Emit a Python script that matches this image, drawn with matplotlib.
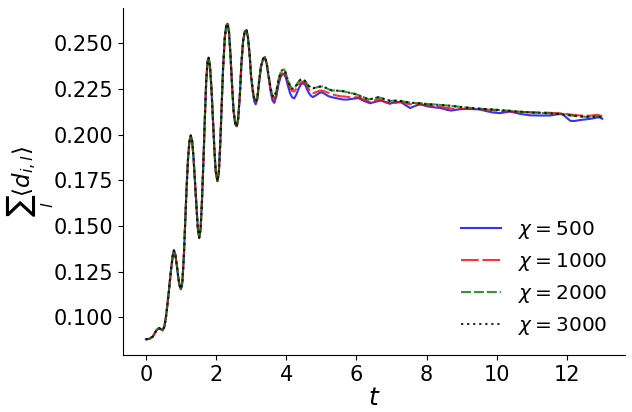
import matplotlib
matplotlib.use("Agg")
import matplotlib.pyplot as plt

# Common early part (all bond dimensions coincide)
t_common = [0.00, 0.10, 0.20, 0.30, 0.37, 0.43, 0.48, 0.53, 0.58, 0.63, 0.68, 0.73, 0.77, 0.80,
            0.84, 0.88, 0.92, 0.96, 1.00, 1.04, 1.08, 1.12, 1.16, 1.20, 1.24, 1.28, 1.32, 1.36,
            1.40, 1.44, 1.48, 1.52, 1.56, 1.60, 1.64, 1.68, 1.72, 1.76, 1.79, 1.83, 1.87, 1.91,
            1.95, 1.99, 2.04, 2.08, 2.12, 2.16, 2.20, 2.25, 2.29, 2.33, 2.37, 2.41, 2.45, 2.50,
            2.55, 2.59, 2.63, 2.68, 2.72, 2.77, 2.82, 2.87, 2.91, 2.96]
v_common = [0.0880, 0.0882, 0.0895, 0.0928, 0.0941, 0.0935, 0.0929, 0.0950, 0.1010, 0.1095,
            0.1190, 0.1280, 0.1340, 0.1366, 0.1345, 0.1290, 0.1225, 0.1175, 0.1154, 0.1190,
            0.1320, 0.1510, 0.1700, 0.1860, 0.1960, 0.1995, 0.1965, 0.1870, 0.1740, 0.1600,
            0.1490, 0.1435, 0.1480, 0.1640, 0.1850, 0.2080, 0.2290, 0.2405, 0.2420, 0.2370,
            0.2250, 0.2090, 0.1930, 0.1800, 0.1745, 0.1790, 0.1950, 0.2150, 0.2360, 0.2530,
            0.2595, 0.2606, 0.2560, 0.2440, 0.2290, 0.2130, 0.2055, 0.2045, 0.2085, 0.2220,
            0.2380, 0.2510, 0.2565, 0.2570, 0.2530, 0.2430]

# chi = 500
t_500 = [3.00, 3.05, 3.09, 3.13, 3.18, 3.23, 3.28, 3.34, 3.39, 3.44, 3.50, 3.56, 3.61, 3.66,
         3.72, 3.78, 3.84, 3.89, 3.94, 3.99, 4.05, 4.11, 4.17, 4.23, 4.29, 4.35, 4.42, 4.48,
         4.55, 4.62, 4.70, 4.76, 4.85, 4.95, 5.02, 5.10, 5.20, 5.30, 5.45, 5.60, 5.73, 5.90,
         6.06, 6.20, 6.39, 6.55, 6.70, 6.85, 6.96, 7.10, 7.25, 7.40, 7.53, 7.68, 7.82, 8.00,
         8.20, 8.40, 8.58, 8.70, 8.85, 9.05, 9.30, 9.52, 9.70, 9.90, 10.09, 10.38, 10.66,
         10.95, 11.23, 11.52, 11.70, 11.85, 11.95, 12.09, 12.20, 12.40, 12.66, 12.85, 12.94, 13.00]
v_500 = [0.2310, 0.2230, 0.2180, 0.2165, 0.2195, 0.2290, 0.2370, 0.2412, 0.2420, 0.2390,
         0.2310, 0.2230, 0.2185, 0.2173, 0.2210, 0.2275, 0.2315, 0.2330, 0.2330, 0.2310,
         0.2265, 0.2225, 0.2203, 0.2198, 0.2220, 0.2250, 0.2275, 0.2282, 0.2268, 0.2235,
         0.2212, 0.2205, 0.2215, 0.2228, 0.2231, 0.2222, 0.2210, 0.2204, 0.2198, 0.2192,
         0.2191, 0.2196, 0.2199, 0.2185, 0.2171, 0.2180, 0.2186, 0.2177, 0.2170, 0.2176,
         0.2180, 0.2160, 0.2145, 0.2157, 0.2166, 0.2155, 0.2149, 0.2145, 0.2135, 0.2131,
         0.2136, 0.2140, 0.2140, 0.2137, 0.2128, 0.2120, 0.2117, 0.2126, 0.2113, 0.2105,
         0.2104, 0.2104, 0.2110, 0.2113, 0.2098, 0.2075, 0.2074, 0.2080, 0.2086, 0.2093,
         0.2094, 0.2086]

# chi = 1000
t_1000 = [3.00, 3.05, 3.09, 3.13, 3.18, 3.23, 3.28, 3.34, 3.39, 3.44, 3.50, 3.56, 3.61, 3.66,
          3.72, 3.78, 3.84, 3.89, 3.94, 3.99, 4.05, 4.11, 4.17, 4.23, 4.29, 4.35, 4.42, 4.48,
          4.55, 4.62, 4.70, 4.76, 4.85, 4.95, 5.02, 5.10, 5.25, 5.40, 5.54, 5.70, 5.85, 6.06,
          6.20, 6.39, 6.52, 6.65, 6.80, 6.96, 7.10, 7.25, 7.40, 7.53, 7.82, 8.10, 8.39, 8.76,
          9.05, 9.33, 9.71, 10.09, 10.28, 10.66, 11.04, 11.40, 11.80, 12.09, 12.37, 12.66,
          12.85, 13.00]
v_1000 = [0.2315, 0.2235, 0.2188, 0.2172, 0.2202, 0.2295, 0.2372, 0.2413, 0.2422, 0.2392,
          0.2315, 0.2240, 0.2198, 0.2188, 0.2222, 0.2288, 0.2325, 0.2334, 0.2334, 0.2318,
          0.2280, 0.2252, 0.2238, 0.2236, 0.2252, 0.2272, 0.2286, 0.2290, 0.2278, 0.2255,
          0.2232, 0.2226, 0.2232, 0.2240, 0.2241, 0.2236, 0.2225, 0.2215, 0.2210, 0.2207,
          0.2203, 0.2204, 0.2192, 0.2177, 0.2187, 0.2193, 0.2178, 0.2168, 0.2173, 0.2177,
          0.2170, 0.2166, 0.2164, 0.2158, 0.2151, 0.2141, 0.2140, 0.2139, 0.2137, 0.2128,
          0.2127, 0.2124, 0.2121, 0.2120, 0.2116, 0.2110, 0.2104, 0.2103, 0.2108, 0.2101]

# chi = 2000
t_2000 = [3.00, 3.05, 3.09, 3.13, 3.18, 3.23, 3.28, 3.34, 3.39, 3.44, 3.50, 3.56, 3.61, 3.66,
          3.72, 3.78, 3.84, 3.89, 3.94, 3.99, 4.05, 4.11, 4.17, 4.23, 4.29, 4.35, 4.42, 4.48,
          4.55, 4.62, 4.70, 4.76, 4.85, 4.95, 5.02, 5.10, 5.20, 5.30, 5.45, 5.64, 5.80, 5.92,
          6.05, 6.20, 6.35, 6.50, 6.63, 6.80, 6.96, 7.20, 7.53, 7.82, 8.10, 8.39, 8.70, 8.96,
          9.25, 9.52, 9.80, 10.09, 10.35, 10.57, 10.80, 11.04, 11.30, 11.61, 11.80, 11.99,
          12.20, 12.37, 12.55, 12.66, 12.80, 12.90, 13.00]
v_2000 = [0.2320, 0.2240, 0.2195, 0.2180, 0.2210, 0.2300, 0.2375, 0.2415, 0.2425, 0.2395,
          0.2320, 0.2250, 0.2212, 0.2204, 0.2240, 0.2300, 0.2340, 0.2354, 0.2356, 0.2335,
          0.2295, 0.2267, 0.2252, 0.2252, 0.2270, 0.2290, 0.2302, 0.2302, 0.2290, 0.2270,
          0.2256, 0.2253, 0.2257, 0.2262, 0.2263, 0.2258, 0.2248, 0.2241, 0.2240, 0.2236,
          0.2228, 0.2224, 0.2216, 0.2205, 0.2192, 0.2198, 0.2204, 0.2194, 0.2184, 0.2186,
          0.2174, 0.2171, 0.2166, 0.2162, 0.2157, 0.2151, 0.2146, 0.2141, 0.2138, 0.2134,
          0.2130, 0.2126, 0.2123, 0.2120, 0.2118, 0.2115, 0.2112, 0.2107, 0.2102, 0.2099,
          0.2097, 0.2097, 0.2098, 0.2098, 0.2093]

# chi = 3000
t_3000 = [3.00, 3.05, 3.09, 3.13, 3.18, 3.23, 3.28, 3.34, 3.39, 3.44, 3.50, 3.56, 3.61, 3.66,
          3.72, 3.78, 3.84, 3.89, 3.94, 3.99, 4.05, 4.11, 4.17, 4.23, 4.29, 4.35, 4.42, 4.48,
          4.55, 4.62, 4.70, 4.76, 4.85, 4.95, 5.02, 5.10, 5.20, 5.30, 5.45, 5.64, 5.80, 5.92,
          6.05, 6.20, 6.35, 6.50, 6.63, 6.80, 6.96, 7.20, 7.53, 7.82, 8.10, 8.39, 8.70, 8.96,
          9.25, 9.52, 9.80, 10.09, 10.35, 10.57, 10.80, 11.04, 11.30, 11.61, 11.80, 11.99,
          12.20, 12.37, 12.55, 12.66, 12.80, 12.90, 13.00]
v_3000 = [0.2320, 0.2240, 0.2195, 0.2180, 0.2210, 0.2300, 0.2375, 0.2415, 0.2425, 0.2395,
          0.2320, 0.2250, 0.2212, 0.2204, 0.2240, 0.2300, 0.2340, 0.2354, 0.2356, 0.2335,
          0.2295, 0.2265, 0.2250, 0.2250, 0.2270, 0.2290, 0.2302, 0.2302, 0.2290, 0.2270,
          0.2256, 0.2253, 0.2257, 0.2262, 0.2263, 0.2258, 0.2248, 0.2241, 0.2240, 0.2237,
          0.2228, 0.2224, 0.2215, 0.2203, 0.2191, 0.2198, 0.2204, 0.2194, 0.2184, 0.2186,
          0.2174, 0.2171, 0.2165, 0.2162, 0.2157, 0.2151, 0.2146, 0.2141, 0.2138, 0.2134,
          0.2130, 0.2126, 0.2123, 0.2120, 0.2118, 0.2115, 0.2112, 0.2107, 0.2102, 0.2099,
          0.2097, 0.2097, 0.2098, 0.2098, 0.2092]

labels = [r"$\chi = 500$", r"$\chi = 1000$", r"$\chi = 2000$", r"$\chi = 3000$"]
xticks = [0, 2, 4, 6, 8, 10, 12]
yticks = [0.100, 0.125, 0.150, 0.175, 0.200, 0.225, 0.250]

fig = plt.figure(figsize=(6.32, 4.12), dpi=100)
ax = fig.add_axes([0.1946, 0.1383, 0.7944, 0.8423])

series = [(t_500, v_500, "blue", "-"),
          (t_1000, v_1000, "red", (0, (8.5, 1.8))),
          (t_2000, v_2000, "green", (0, (4.8, 1.4))),
          (t_3000, v_3000, "black", (0, (1.1, 1.8)))]
for (ts, vs, col, ls), lab in zip(series, labels):
    ax.plot(t_common + ts, v_common + vs, color=col, linestyle=ls, lw=1.5, alpha=0.8, label=lab)

ax.spines["top"].set_visible(False)
ax.spines["right"].set_visible(False)
ax.set_xticks(xticks)
ax.set_yticks(yticks)
ax.tick_params(labelsize=15)
ax.set_xlabel(r"$t$", fontsize=18, labelpad=1)
ax.set_ylabel(r"$\sum_l \langle d_{i,l} \rangle$", fontsize=16.5)
ax.yaxis.set_label_coords(-0.134, 0.5)
ax.legend(loc="lower right", frameon=False, fontsize=14.5, bbox_to_anchor=(1.0, 0.0),
          handlelength=2.0)

fig.savefig("out.png", dpi=100)
